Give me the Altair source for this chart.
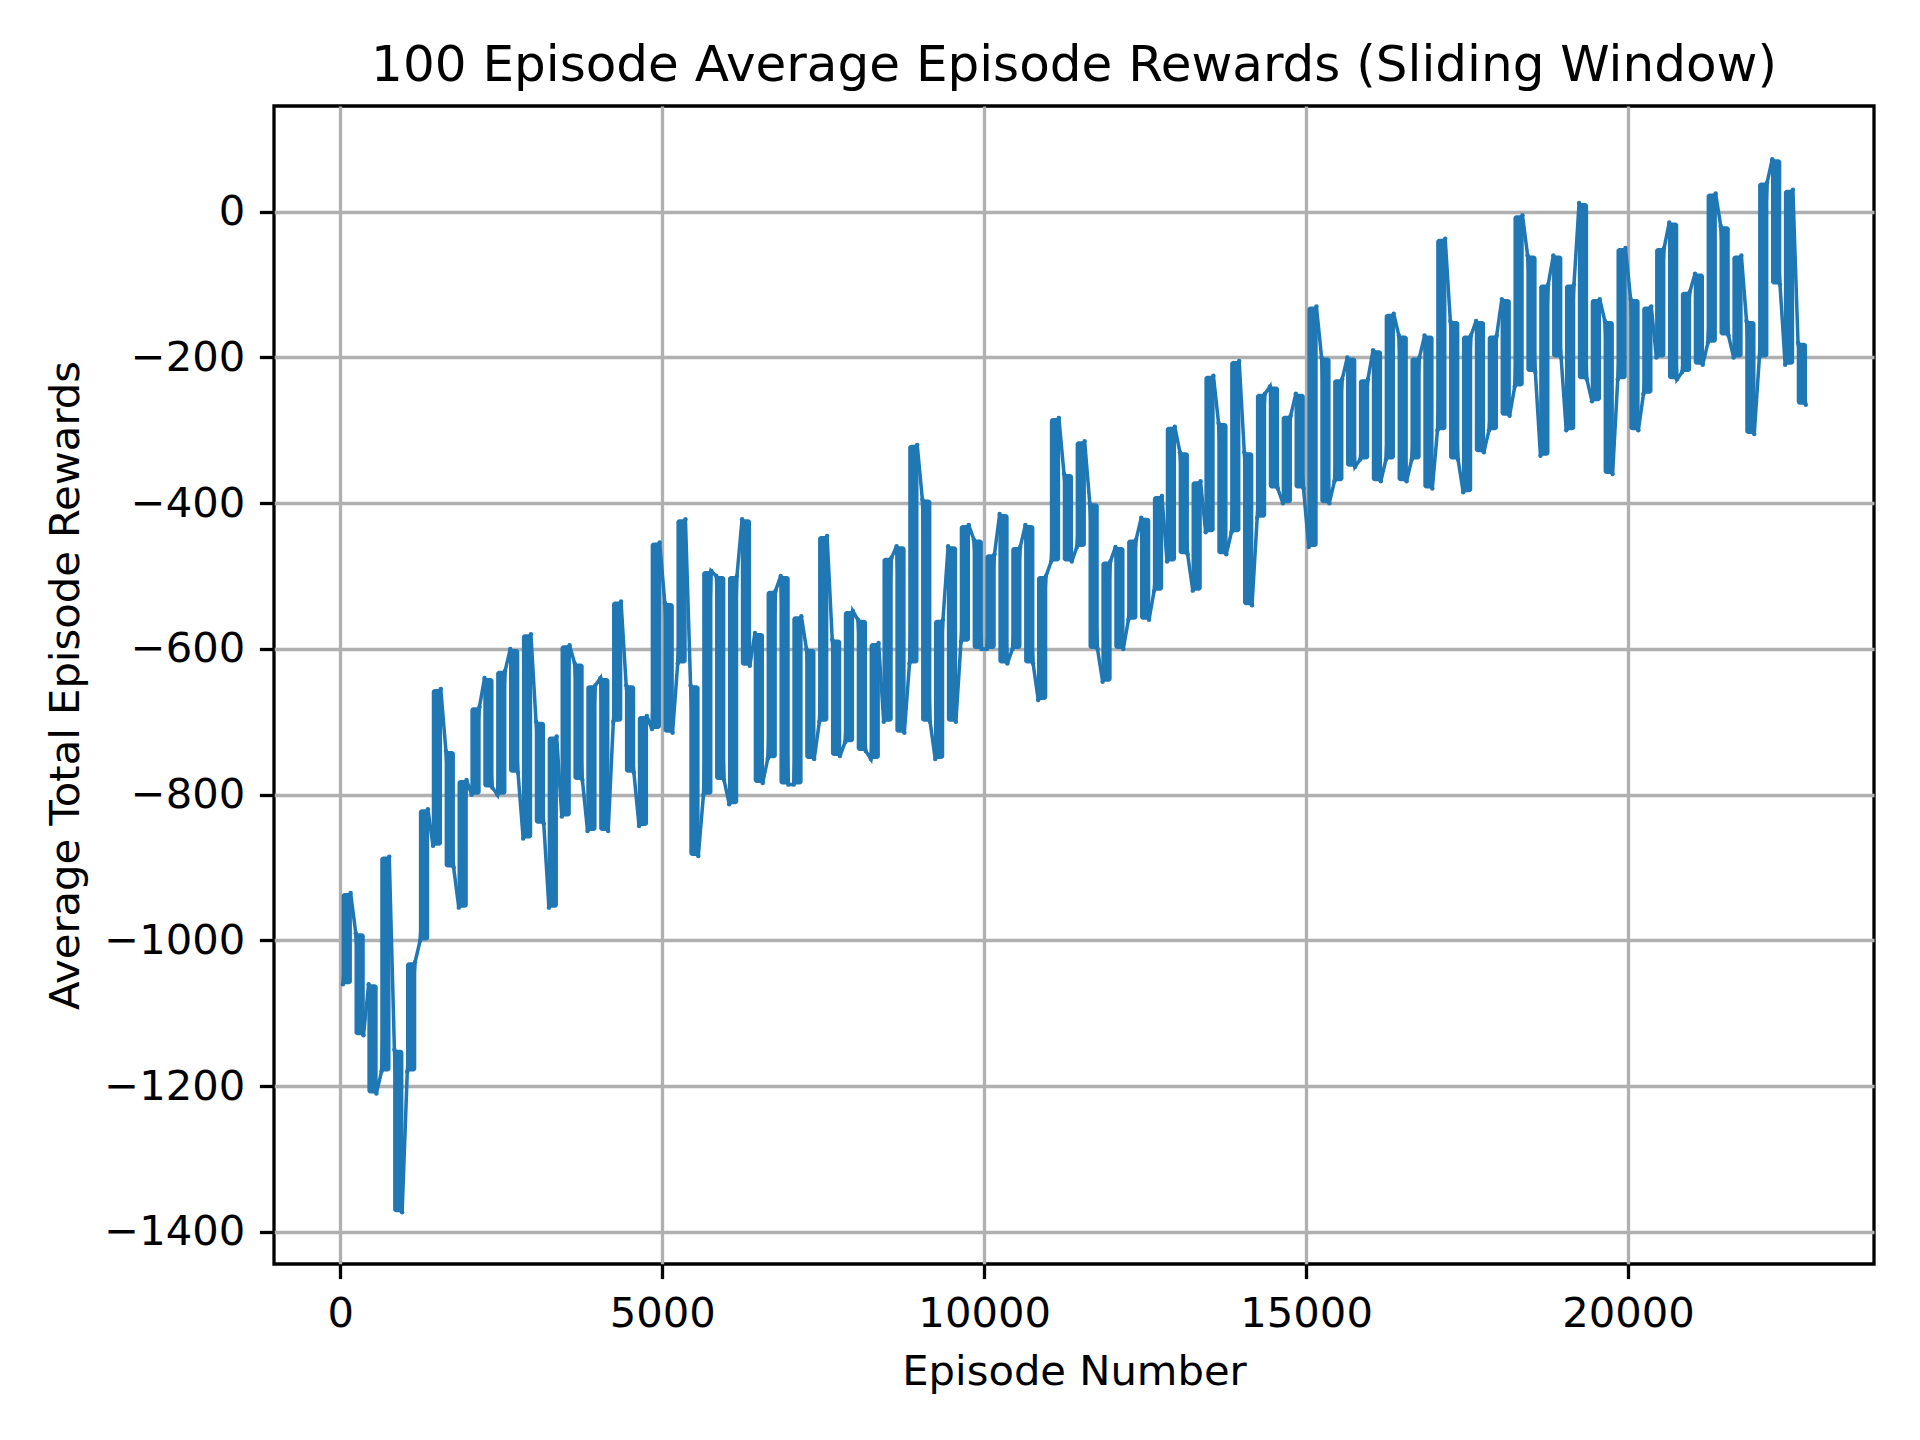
import altair as alt
import pandas as pd

TITLE = "100 Episode Average Episode Rewards (Sliding Window)"

# Bin centres (episodes), and the lowest / highest 100-episode average read in each bin
BIN_EPISODES = [
    100, 300, 500, 700, 900, 1100, 1300, 1500, 1700, 1900,
    2100, 2300, 2500, 2700, 2900, 3100, 3300, 3500, 3700, 3900,
    4100, 4300, 4500, 4700, 4900, 5100, 5300, 5500, 5700, 5900,
    6100, 6300, 6500, 6700, 6900, 7100, 7300, 7500, 7700, 7900,
    8100, 8300, 8500, 8700, 8900, 9100, 9300, 9500, 9700, 9900,
    10100, 10300, 10500, 10700, 10900, 11100, 11300, 11500, 11700, 11900,
    12100, 12300, 12500, 12700, 12900, 13100, 13300, 13500, 13700, 13900,
    14100, 14300, 14500, 14700, 14900, 15100, 15300, 15500, 15700, 15900,
    16100, 16300, 16500, 16700, 16900, 17100, 17300, 17500, 17700, 17900,
    18100, 18300, 18500, 18700, 18900, 19100, 19300, 19500, 19700, 19900,
    20100, 20300, 20500, 20700, 20900, 21100, 21300, 21500, 21700, 21900,
    22100, 22300, 22500, 22700,
]
BIN_LOW = [
    -1060, -1130, -1210, -1180, -1373, -1180, -1000, -870, -900, -955,
    -800, -790, -800, -770, -860, -840, -955, -830, -780, -850,
    -850, -700, -770, -843, -710, -715, -620, -884, -800, -780,
    -813, -623, -784, -750, -786, -786, -751, -700, -747, -728,
    -740, -751, -700, -715, -620, -700, -751, -700, -590, -600,
    -600, -620, -600, -620, -670, -480, -480, -460, -600, -645,
    -600, -560, -560, -520, -480, -470, -520, -440, -470, -440,
    -540, -420, -380, -400, -380, -460, -400, -370, -350, -340,
    -370, -340, -370, -340, -380, -300, -340, -385, -330, -300,
    -280, -240, -220, -335, -200, -300, -230, -260, -360, -230,
    -300, -250, -200, -230, -220, -210, -180, -170, -200, -305,
    -200, -100, -210, -265,
]
BIN_HIGH = [
    -935, -990, -1060, -885, -1150, -1030, -820, -655, -740, -780,
    -680, -640, -630, -600, -580, -700, -720, -595, -620, -650,
    -640, -535, -650, -692, -454, -537, -422, -650, -493, -500,
    -500, -422, -578, -520, -500, -555, -600, -445, -587, -548,
    -560, -592, -475, -459, -320, -395, -560, -459, -430, -450,
    -470, -415, -460, -430, -500, -283, -360, -315, -400, -480,
    -460, -450, -420, -390, -295, -330, -370, -225, -290, -205,
    -330, -250, -240, -280, -250, -130, -200, -230, -200, -230,
    -190, -140, -170, -200, -170, -37, -150, -170, -150, -170,
    -120, -5, -60, -100, -60, -100, 12, -120, -150, -50,
    -120, -130, -50, -15, -110, -85, 25, -20, -60, -150,
    40, 72, 30, -180,
]

X_TICKS = [0, 5000, 10000, 15000, 20000]
Y_TICKS = [-1400, -1200, -1000, -800, -600, -400, -200, 0]

HALF = 80  # half-width (episodes) of the drawn strand for each bin

bins = pd.DataFrame({"episode": BIN_EPISODES, "low": BIN_LOW, "high": BIN_HIGH})
bins["start"] = bins["episode"] - HALF
bins["end"] = bins["episode"] + HALF

# trace through each bin: enter at the extreme nearest to where the previous bin ended
rows = []
prev = None
for ep, lo, hi in zip(BIN_EPISODES, BIN_LOW, BIN_HIGH):
    if prev is None or abs(prev - lo) <= abs(prev - hi):
        first, second = lo, hi
    else:
        first, second = hi, lo
    rows.append({"episode": ep - 60, "reward": first})
    rows.append({"episode": ep + 60, "reward": second})
    prev = second
path = pd.DataFrame(rows)
path["order"] = range(len(path))

BLUE = "#1f77b4"
FONT = "DejaVu Sans"

xscale = alt.Scale(domain=[-1030, 23820], nice=False, zero=False)
yscale = alt.Scale(domain=[-1444, 145], nice=False, zero=False)

x = alt.X(
    "episode:Q",
    scale=xscale,
    axis=alt.Axis(values=X_TICKS, format="d", title="Episode Number", labelFlush=False),
)
y = alt.Y(
    "reward:Q",
    scale=yscale,
    axis=alt.Axis(values=Y_TICKS, format="d", title="Average Total Episode Rewards"),
)

strands = alt.Chart(bins).mark_rect(color=BLUE, cornerRadius=3).encode(
    x=alt.X("start:Q", scale=xscale),
    x2="end:Q",
    y=alt.Y("low:Q", scale=yscale),
    y2="high:Q",
)
line = alt.Chart(path).mark_line(color=BLUE, strokeWidth=3.5).encode(x=x, y=y, order="order:Q")
pts = alt.Chart(path).mark_circle(color=BLUE, size=20, opacity=1).encode(x=x, y=y)

title = alt.Chart(pd.DataFrame({"t": [TITLE]})).mark_text(
    font=FONT, fontSize=50, color="black", align="center", baseline="alphabetic"
).encode(text="t:N", x=alt.value(800), y=alt.value(-25))

chart = (
    alt.layer(line, strands, pts, title)
    .properties(
        width=1600,
        height=1158,
        autosize=alt.AutoSizeParams(type="none"),
        padding={"left": 266, "top": 98, "right": 37, "bottom": 167},
    )
    .configure(background="white")
    .configure_view(stroke="black", strokeWidth=3.3)
    .configure_axis(
        labelFont=FONT,
        labelFontSize=41.7,
        labelColor="black",
        titleFont=FONT,
        titleFontSize=41.7,
        titleFontWeight="normal",
        titleColor="black",
        tickColor="black",
        tickWidth=3.3,
        tickSize=14.6,
        labelPadding=14.6,
        titlePadding=16.7,
        domain=False,
        grid=True,
        gridColor="#b0b0b0",
        gridWidth=3.3,
        labelOverlap=False,
    )
)

chart.save("out.html", embed_options={"renderer": "svg", "actions": False})
